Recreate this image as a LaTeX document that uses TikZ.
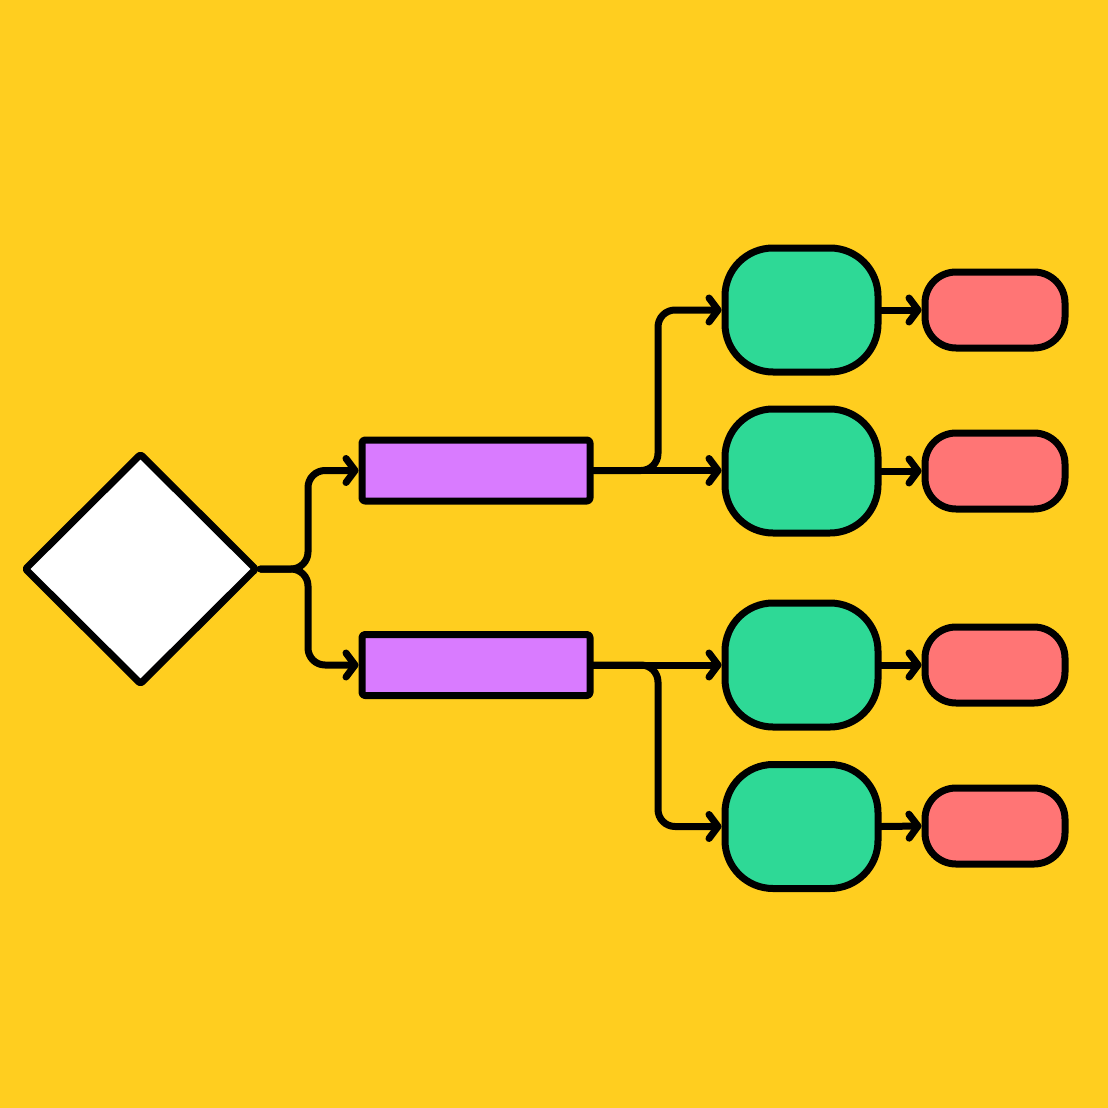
\documentclass[tikz,border=0pt]{standalone}
\usetikzlibrary{shapes.geometric,arrows.meta}
\definecolor{bgy}{HTML}{FFCE1F}
\definecolor{purp}{HTML}{D97BFF}
\definecolor{grn}{HTML}{2ED996}
\definecolor{redp}{HTML}{FF7575}
\begin{document}
\begin{tikzpicture}[x=1pt,y=-1pt,
  base/.style={draw=black,line width=7pt,line join=round,inner sep=0pt},
  dia/.style={base,diamond,fill=white,minimum width=233pt,minimum height=232pt,rounded corners=2pt},
  bar/.style={base,rectangle,fill=purp,minimum width=228pt,minimum height=61pt,rounded corners=3pt},
  gbox/.style={base,rectangle,fill=grn,minimum width=153pt,minimum height=124pt,rounded corners=48pt},
  rpill/.style={base,rectangle,fill=redp,minimum width=140pt,minimum height=76pt,rounded corners=31pt},
  conn/.style={line width=7pt,line cap=round,line join=round,rounded corners=17pt},
  arr/.style={conn,-{Straight Barb[length=9pt,width=24pt,round]}}]
\fill[bgy] (0,0) rectangle (1108,1108);
\useasboundingbox (0,0) rectangle (1108,1108);
\node[dia] (d) at (140.5,569) {};
\node[bar] (p1) at (476,470.5) {};
\node[bar] (p2) at (476,665) {};
\node[gbox] (g1) at (801.5,310) {};
\node[gbox] (g2) at (801.5,471) {};
\node[gbox] (g3) at (801.5,665) {};
\node[gbox] (g4) at (801.5,826.5) {};
\node[rpill] (r1) at (995,310) {};
\node[rpill] (r2) at (995,471) {};
\node[rpill] (r3) at (995,665) {};
\node[rpill] (r4) at (995,826) {};
\coordinate (c1) at (308,569);
\coordinate (c2) at (658,470.5);
\coordinate (c3) at (658,665);
\draw[arr] (d.east) -- (c1) |- (p1.west);
\draw[arr] (d.east) -- (c1) |- (p2.west);
\draw[arr] (p1.east) -- (p1.east -| g2.west);
\draw[arr] (p1.east) -- (c2) |- (g1.west);
\draw[arr] (p2.east) -- (p2.east -| g3.west);
\draw[arr] (p2.east) -- (c3) |- (g4.west);
\draw[arr] (g1.east) -- (r1.west);
\draw[arr] (g2.east) -- (r2.west);
\draw[arr] (g3.east) -- (r3.west);
\draw[arr] (g4.east) -- (r4.west);
\end{tikzpicture}
\end{document}
